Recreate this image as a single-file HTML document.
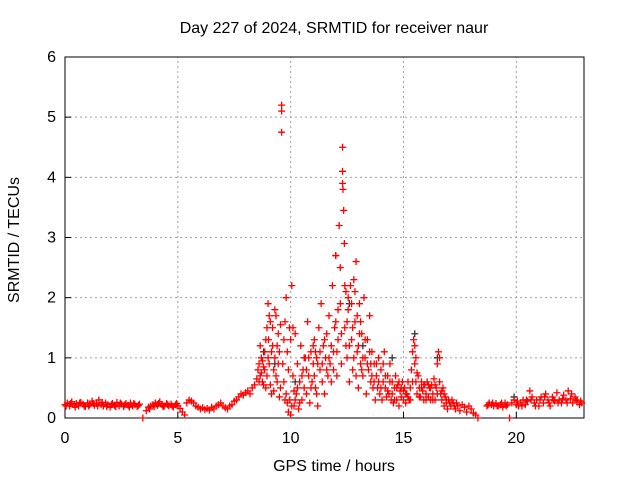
<!DOCTYPE html>
<html><head><meta charset="utf-8"><style>
body{margin:0;background:#fff}
svg text{font-family:"Liberation Sans",sans-serif;font-size:16px;fill:#000}
</style></head><body>
<svg id="chart" width="640" height="480" xmlns="http://www.w3.org/2000/svg">
<rect width="640" height="480" fill="#fff"/>
<text x="334" y="33" text-anchor="middle">Day 227 of 2024, SRMTID for receiver naur</text>
<g id="grid"></g>
<g id="axes"></g>
<g id="black"></g>
<g id="red"></g>
<text x="334" y="471" text-anchor="middle">GPS time / hours</text>
<text x="0" y="0" text-anchor="middle" transform="translate(19,240) rotate(-90)">SRMTID / TECUs</text>
</svg>
<script>
const xTicks=[0,5,10,15,20];
const yTicks=[0,1,2,3,4,5,6];
const redPts=[[0,0.22],[0.1,0.25],[0.2,0.2],[0.3,0.27],[0.4,0.22],[0.5,0.24],[0.6,0.2],[0.7,0.26],[0.8,0.23],[0.9,0.19],[1.0,0.25],[1.1,0.22],[1.2,0.28],[1.3,0.21],[1.4,0.24],[1.5,0.3],[1.6,0.22],[1.7,0.2],[1.8,0.25],[1.9,0.22],[2.0,0.18],[2.1,0.24],[2.2,0.21],[2.3,0.26],[2.4,0.2],[2.5,0.23],[2.6,0.19],[2.7,0.24],[2.8,0.21],[2.9,0.25],[3.0,0.2],[3.1,0.22],[3.2,0.19],[3.3,0.23],
[3.45,0.0],
[3.6,0.12],[3.7,0.18],[3.8,0.2],[3.9,0.22],[4.0,0.25],[4.1,0.21],[4.2,0.27],[4.3,0.22],[4.4,0.2],[4.5,0.24],[4.6,0.2],[4.7,0.23],[4.8,0.18],[4.9,0.22],[5.0,0.2],[5.1,0.16],[5.2,0.1],[5.3,0.05],
[5.4,0.25],[5.5,0.3],[5.6,0.28],[5.7,0.25],[5.8,0.2],[5.9,0.18],[6.0,0.15],[6.1,0.17],[6.2,0.14],[6.3,0.16],[6.4,0.13],[6.5,0.18],[6.6,0.15],[6.7,0.2],[6.8,0.22],[6.9,0.25],[7.0,0.2],[7.1,0.17],[7.2,0.15],[7.3,0.2],[7.4,0.22],[7.5,0.28],
[7.6,0.3],[7.7,0.35],[7.8,0.4],[7.9,0.38],[8.0,0.42],[8.1,0.45],[8.2,0.4],[8.3,0.5],[8.4,0.55],[8.5,0.65],[8.55,0.8],[8.6,0.9],[8.65,0.7],[8.7,1.0],[8.75,0.6],[8.8,0.85],[8.85,1.1],[8.9,0.5],
[8.95,1.5],[9.0,1.9],[9.02,1.3],[9.05,0.9],[9.1,1.6],[9.15,0.4],[9.2,1.2],[9.25,0.8],[9.3,1.0],[9.35,1.7],[9.4,0.6],[9.45,1.4],[9.5,0.35],[9.55,1.55],[9.6,5.2],[9.6,5.1],[9.6,4.75],[9.65,0.9],[9.7,1.3],[9.75,0.3],[9.8,2.0],[9.85,1.1],[9.9,0.1],[9.95,1.5],[10.0,0.05],[10.05,2.2],[10.1,0.7],[10.15,0.2],[10.2,1.4],[10.25,0.4],[10.3,0.9],[10.35,0.15],[10.4,0.6],[10.45,1.2],[10.5,0.3],[10.55,0.8],[10.6,0.5],[10.65,1.0],[10.7,0.4],[10.75,1.6],[10.8,0.7],[10.85,0.25],[10.9,1.1],[10.95,0.6],[11.0,0.9],[11.05,1.3],[11.1,0.5],[11.15,1.0],[11.2,0.2],[11.25,1.5],[11.3,0.8],[11.35,1.9],[11.4,0.6],[11.45,1.2],[11.5,0.4],[11.55,1.0],[11.6,1.4],[11.65,0.7],[11.7,1.7],[11.75,0.9],[11.8,1.2],[11.85,2.2],[11.9,0.8],[11.95,1.5],[12.0,2.7],[12.05,1.1],[12.1,1.8],[12.15,3.2],[12.2,2.5],[12.25,0.9],[12.3,4.5],[12.3,4.1],[12.3,3.9],[12.32,3.8],[12.35,3.45],[12.38,2.9],[12.4,1.5],[12.45,2.1],[12.5,1.0],[12.55,1.8],[12.6,0.6],[12.65,2.2],[12.7,1.3],[12.75,0.8],[12.8,2.3],[12.85,1.6],[12.9,2.6],[12.95,1.1],[13.0,0.5],[13.05,1.9],[13.1,0.9],[13.15,1.4],[13.2,0.7],[13.25,2.0],[13.3,1.0],[13.35,0.4],[13.4,1.3],[13.45,0.8],[13.5,1.7],[13.55,0.6],[13.6,1.1],[13.65,0.5],[13.7,0.9],[13.75,0.3],[13.8,0.7],[13.85,0.5],[13.9,1.0],[13.95,0.4],[14.0,0.8],[14.05,0.3],[14.1,0.6],[14.15,1.1],[14.2,0.5],[14.25,0.35],[14.3,0.7],[14.35,0.4],[14.4,0.9],[14.45,0.3],[14.5,0.6],[14.55,0.25],[14.6,0.5],[14.65,0.7],[14.7,0.3],[14.75,0.55],[14.8,0.2],[14.85,0.45],[14.9,0.35],[14.95,0.6],[15.0,0.3],[15.05,0.5],[15.1,0.25],[15.15,0.4],[15.2,0.6],[15.25,0.3],[15.3,0.5],[15.35,0.8],[15.4,1.1],[15.45,1.3],[15.5,0.9],[15.55,0.6],[15.6,0.4],[15.65,0.7],[15.7,0.5],[15.75,0.35],[15.8,0.6],[15.85,0.45],[15.9,0.3],[15.95,0.55],[16.0,0.4],[16.05,0.6],[16.1,0.35],[16.15,0.5],[16.2,0.3],[16.25,0.55],[16.3,0.4],[16.35,0.65],[16.4,0.3],[16.45,0.5],[16.5,0.9],[16.55,1.1],[16.6,0.6],[16.65,0.4],[16.7,0.3],[16.75,0.5],[16.8,0.2],[16.85,0.35],[16.9,0.25],[16.95,0.15],[17.0,0.3],[17.1,0.2],[17.2,0.25],[17.3,0.15],[17.4,0.2],[17.5,0.12],[17.6,0.22],[17.7,0.18],[17.8,0.1],[17.9,0.2],[18.0,0.15],[18.1,0.08],[18.2,0.05],[18.3,0.0],
[18.7,0.2],[18.8,0.25],[18.9,0.22],[19.0,0.2],[19.1,0.24],[19.2,0.2],[19.3,0.22],[19.4,0.18],[19.5,0.25],[19.6,0.22],[19.7,0.0],[19.8,0.25],[19.9,0.3],[20.0,0.22],[20.1,0.2],[20.2,0.25],[20.3,0.3],[20.4,0.22],[20.5,0.28],[20.6,0.45],[20.7,0.35],[20.8,0.25],[20.9,0.3],[21.0,0.2],[21.1,0.35],[21.2,0.25],[21.3,0.4],[21.4,0.3],[21.5,0.2],[21.6,0.35],[21.7,0.28],[21.8,0.42],[21.9,0.3],[22.0,0.25],[22.1,0.38],[22.2,0.3],[22.3,0.45],[22.4,0.32],[22.5,0.25],[22.6,0.35],[22.7,0.28],[22.8,0.22],[22.9,0.25]];
const redPts2=[[0.05,0.2],[0.25,0.24],[0.45,0.18],[0.65,0.25],[0.85,0.2],[1.05,0.2],[1.25,0.24],[1.45,0.2],[1.65,0.26],[1.85,0.19],[2.05,0.22],[2.25,0.19],[2.45,0.25],[2.65,0.22],[2.85,0.18],[3.05,0.24],[3.25,0.21],[3.75,0.15],[3.95,0.19],[4.15,0.24],[4.35,0.19],[4.55,0.22],[4.75,0.2],[4.95,0.24],
[8.6,0.6],[8.65,1.2],[8.7,0.75],[8.75,0.95],[8.8,0.55],[8.85,0.8],[8.9,1.3],[8.95,0.7],[9.0,1.0],[9.05,1.7],[9.1,0.55],[9.15,1.1],[9.2,1.5],[9.25,0.45],[9.3,1.8],[9.35,0.7],[9.4,1.2],[9.45,0.9],[9.5,1.1],[9.55,0.5],[9.7,0.6],[9.75,1.6],[9.8,0.4],[9.85,0.25],[9.9,0.8],[9.95,0.3],[10.0,1.3],[10.05,0.2],[10.1,1.5],[10.15,0.45],[10.2,0.3],[10.3,0.5],[10.4,0.25],[10.5,0.7],[10.6,1.0],[10.7,0.8],[10.8,1.0],[10.9,0.5],[11.0,1.2],[11.05,0.7],[11.1,1.1],[11.15,0.4],[11.2,0.9],[11.3,1.1],[11.4,0.9],[11.5,1.3],[11.6,0.8],[11.7,1.0],[11.8,0.6],[11.9,1.1],[12.0,1.6],[12.05,0.7],[12.1,1.3],[12.2,1.9],[12.25,1.4],[12.4,2.2],[12.45,1.2],[12.5,1.6],[12.55,2.0],[12.6,1.2],[12.7,1.9],[12.75,1.5],[12.8,1.0],[12.85,2.1],[12.9,0.7],[12.95,1.7],[13.0,1.2],[13.05,1.4],[13.1,1.6],[13.15,0.8],[13.2,1.0],[13.3,1.3],[13.4,0.9],[13.5,1.1],[13.55,0.9],[13.6,0.7],[13.7,0.6],[13.8,0.9],[13.9,0.6],[14.0,0.5],[14.1,0.9],[14.2,0.7],[14.3,0.45],[14.4,0.6],[14.5,0.4],[14.6,0.3],[14.7,0.5],[14.8,0.6],[14.9,0.5],[15.0,0.45],[15.1,0.4],[15.2,0.35],[15.3,0.3],[15.4,0.6],[15.5,1.2],[15.55,1.0],[15.6,0.75],[15.7,0.35],[15.8,0.5],[15.9,0.55],[16.0,0.3],[16.1,0.55],[16.2,0.5],[16.3,0.3],[16.4,0.55],[16.5,0.4],[16.6,1.0],[16.7,0.45],[16.8,0.4],[16.9,0.3],[17.05,0.25],[17.15,0.3],[17.25,0.2],[17.35,0.25],
[18.75,0.22],[18.95,0.25],[19.15,0.2],[19.35,0.25],[19.55,0.2],[20.05,0.28],[20.25,0.2],[20.45,0.3],[20.65,0.3],[20.85,0.2],[21.05,0.3],[21.25,0.35],[21.45,0.25],[21.65,0.3],[21.85,0.25],[22.05,0.32],[22.25,0.25],[22.45,0.4],[22.65,0.3],[22.85,0.28]];
const blackPts=[[8.8,1.1],[9.3,0.9],[10.2,0.6],[12.0,2.7],[12.6,1.9],[13.2,1.2],[14.5,1.0],[15.5,1.4],[16.5,1.0],[19.9,0.35]];
const X0=65,X1=584,Y0=418,Y1=57,XMAX=23,YMAX=6;
const sx=v=>X0+(X1-X0)*v/XMAX, sy=v=>Y0-(Y0-Y1)*v/YMAX;
const NS='http://www.w3.org/2000/svg';
function mk(tag,attrs,parent){const e=document.createElementNS(NS,tag);for(const k in attrs)e.setAttribute(k,attrs[k]);parent.appendChild(e);return e;}
const grid=document.getElementById('grid'),axes=document.getElementById('axes');
yTicks.forEach(t=>{
  const y=sy(t);
  if(t>0&&t<YMAX){const l=mk('line',{x1:X0,x2:X1,y1:y,y2:y,stroke:'#a0a0a0','stroke-dasharray':'2,3'},grid);}
  const tk=mk('line',{x1:X0,x2:X0+6,y1:y,y2:y,stroke:'#000'},axes);
  const tx=mk('text',{x:X0-9,y:y+5,'text-anchor':'end'},axes);tx.textContent=t;
});
xTicks.forEach(t=>{
  const x=sx(t);
  if(t>0){const l=mk('line',{x1:x,x2:x,y1:Y0,y2:Y1,stroke:'#a0a0a0','stroke-dasharray':'2,3'},grid);}
  const tk=mk('line',{x1:x,x2:x,y1:Y0,y2:Y0-6,stroke:'#000'},axes);
  const tx=mk('text',{x:x,y:Y0+25,'text-anchor':'middle'},axes);tx.textContent=t;
});
const b=mk('rect',{x:X0,y:Y1,width:X1-X0,height:Y0-Y1,fill:'none',stroke:'#000'},axes);


function draw(pts,g,col){
  pts.forEach(p=>{const x=sx(p[0]),y=sy(p[1]);
    const e=mk('path',{d:`M${x-3.5} ${y}H${x+3.5}M${x} ${y-3.5}V${y+3.5}`,stroke:col,'stroke-width':1.3,fill:'none'},g);
    
    
  });
}
draw(blackPts,document.getElementById('black'),'#333');
draw(redPts,document.getElementById('red'),'#ff0000');
draw(redPts2,document.getElementById('red'),'#ff0000');
</script>
</body></html>
